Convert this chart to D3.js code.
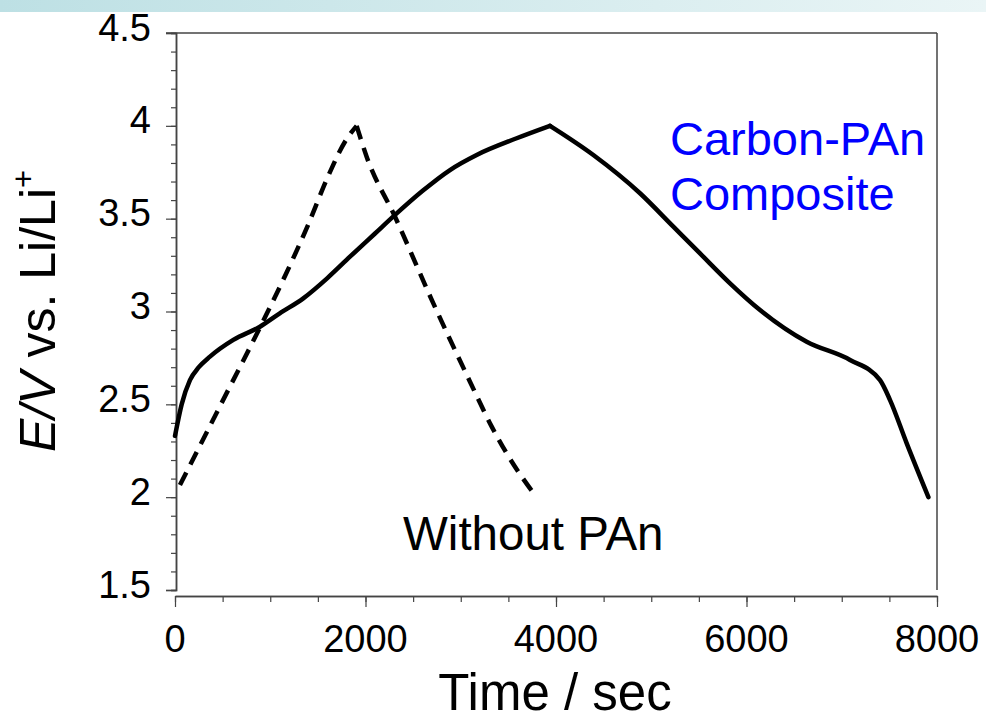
<!DOCTYPE html>
<html>
<head>
<meta charset="utf-8">
<script src="https://cdn.jsdelivr.net/npm/d3@7"></script>
<style>
  body { margin: 0; background: #fff; }
  text { font-family: "Liberation Sans", Arial, sans-serif; }
</style>
</head>
<body>
<div id="chart"></div>
<script>
// Carbon-PAn composite (solid line), time in sec and potential in V
var compositeTime = [0, 70, 157, 250, 367, 612, 892, 1100, 1347, 1600, 1837, 2100, 2310, 2600, 2887, 3167, 3587, 3937,
    4392, 4882, 5232, 5512, 5827, 6142, 6632, 7087, 7402, 7507, 7682, 7910];
var compositeE = [2.33, 2.50, 2.63, 2.70, 2.757, 2.847, 2.918, 2.99, 3.071, 3.18, 3.295, 3.42, 3.52, 3.65, 3.762, 3.843, 3.933, 4.0,
    3.843, 3.637, 3.457, 3.313, 3.152, 3.008, 2.837, 2.739, 2.63, 2.523, 2.290, 2.0];

// Without PAn (dashed line)
var plainTime = [52, 472, 927, 1172, 1400, 1600, 1803, 1907, 2012, 2310, 2712, 3097, 3325, 3482, 3640, 3797];
var plainE = [2.066, 2.49, 2.95, 3.21, 3.47, 3.72, 3.93, 4.0, 3.834, 3.51, 3.044, 2.622, 2.38, 2.236, 2.11, 2.0];

var xTicks = [0, 2000, 4000, 6000, 8000];
var yTicks = [1.5, 2, 2.5, 3, 3.5, 4, 4.5];
var yTickLabels = ["1.5", "2", "2.5", "3", "3.5", "4", "4.5"];

var width = 986, height = 717;

var svg = d3.select("#chart")
    .append("svg")
    .attr("width", width)
    .attr("height", height);

// slide header band
var grad = svg.append("defs").append("linearGradient")
    .attr("id", "band")
    .attr("x1", "0%").attr("x2", "100%");
grad.append("stop").attr("offset", "0%").attr("stop-color", "#bde0e4");
grad.append("stop").attr("offset", "100%").attr("stop-color", "#eaf5f6");
svg.append("rect")
    .attr("x", 0).attr("y", 0)
    .attr("width", width).attr("height", 12)
    .attr("fill", "url(#band)");

var x = d3.scaleLinear().domain([0, 8000]).range([175, 937]);
var y = d3.scaleLinear().domain([1.5, 4.5]).range([590, 33]);
var axisColor = "#444";

// frame: top and right edges
svg.append("line")
    .attr("x1", 166).attr("x2", x(8000))
    .attr("y1", y(4.5)).attr("y2", y(4.5))
    .attr("stroke", axisColor).attr("stroke-width", 1.5);
svg.append("line")
    .attr("x1", x(8000)).attr("x2", x(8000))
    .attr("y1", y(4.5)).attr("y2", y(1.5))
    .attr("stroke", axisColor).attr("stroke-width", 1.5);

// y axis
var yMinor = svg.append("g")
    .attr("transform", "translate(176,0)")
    .call(d3.axisLeft(y).tickValues(d3.range(15, 46).map(function(d) { return d / 10; }))
        .tickSize(5).tickFormat(""));
var yMajor = svg.append("g")
    .attr("transform", "translate(176,0)")
    .call(d3.axisLeft(y).tickValues(yTicks).tickSize(10).tickFormat(""));
[yMinor, yMajor].forEach(function(g) {
    g.select(".domain").attr("stroke", axisColor).attr("stroke-width", 1.5);
    g.selectAll(".tick line").attr("stroke", axisColor).attr("stroke-width", 1.2);
});

svg.selectAll(".ylab")
    .data(yTicks)
    .enter().append("text")
    .attr("class", "ylab")
    .attr("x", 151)
    .attr("y", function(d) { return y(d) + 7.5; })
    .attr("text-anchor", "end")
    .attr("font-size", 38)
    .text(function(d, i) { return yTickLabels[i]; });

// x axis, offset below the plot
var xMinor = svg.append("g")
    .attr("transform", "translate(0,596)")
    .call(d3.axisBottom(x).tickValues(d3.range(0, 8001, 500)).tickSize(6).tickSizeOuter(0).tickFormat(""));
var xMajor = svg.append("g")
    .attr("transform", "translate(0,596)")
    .call(d3.axisBottom(x).tickValues(xTicks).tickSize(11).tickSizeOuter(0).tickFormat(""));
[xMinor, xMajor].forEach(function(g) {
    g.select(".domain").attr("stroke", axisColor).attr("stroke-width", 1.5);
    g.selectAll(".tick line").attr("stroke", axisColor).attr("stroke-width", 1.2);
});

svg.selectAll(".xlab")
    .data(xTicks)
    .enter().append("text")
    .attr("class", "xlab")
    .attr("x", function(d) { return x(d); })
    .attr("y", 652)
    .attr("text-anchor", "middle")
    .attr("font-size", 38)
    .text(function(d) { return d; });

// axis titles
svg.append("text")
    .attr("x", 555).attr("y", 710)
    .attr("text-anchor", "middle")
    .attr("font-size", 51)
    .text("Time / sec");

var yt = svg.append("text")
    .attr("transform", "translate(55,452) rotate(-90)")
    .attr("font-size", 50);
yt.append("tspan").attr("font-style", "italic").text("E/V");
yt.append("tspan").text(" vs. Li/Li");
yt.append("tspan").attr("font-size", 31).attr("dy", -21).text("+");

// curves: charge and discharge halves drawn separately so the peak stays sharp
var line = d3.line()
    .x(function(d) { return x(d[0]); })
    .y(function(d) { return y(d[1]); })
    .curve(d3.curveMonotoneX);

function halves(t, e) {
    var pts = d3.zip(t, e);
    var k = d3.maxIndex(e);
    return [pts.slice(0, k + 1), pts.slice(k)];
}

svg.selectAll(".plain")
    .data(halves(plainTime, plainE))
    .enter().append("path")
    .attr("class", "plain")
    .attr("d", line)
    .attr("fill", "none")
    .attr("stroke", "#000")
    .attr("stroke-width", 4.5)
    .attr("stroke-dasharray", "14,9");

svg.selectAll(".composite")
    .data(halves(compositeTime, compositeE))
    .enter().append("path")
    .attr("class", "composite")
    .attr("d", line)
    .attr("fill", "none")
    .attr("stroke", "#000")
    .attr("stroke-width", 4.5)
    .attr("stroke-linejoin", "round")
    .attr("stroke-linecap", "round");

// labels
svg.append("text")
    .attr("x", 670).attr("y", 155)
    .attr("font-size", 47)
    .attr("fill", "#0000ff")
    .text("Carbon-PAn");
svg.append("text")
    .attr("x", 670).attr("y", 210)
    .attr("font-size", 47)
    .attr("fill", "#0000ff")
    .text("Composite");
svg.append("text")
    .attr("x", 403).attr("y", 550)
    .attr("font-size", 47.5)
    .text("Without PAn");
</script>
</body>
</html>
